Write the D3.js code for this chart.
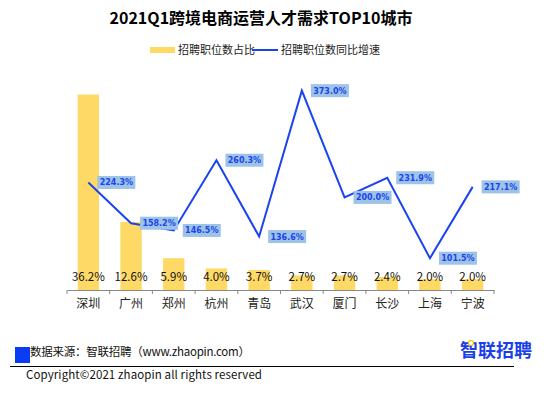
<!DOCTYPE html>
<html>
<head>
<meta charset="utf-8">
<script src="https://cdn.jsdelivr.net/npm/d3@7"></script>
<style>
  body { margin: 0; background: #fff; }
  svg { font-family: "Noto Sans CJK SC", "Noto Sans", sans-serif; }
</style>
</head>
<body>
<div id="chart"></div>
<script>
'use strict';

var cities = ['深圳', '广州', '郑州', '杭州', '青岛', '武汉', '厦门', '长沙', '上海', '宁波'];
var shareValues = [36.2, 12.6, 5.9, 4.0, 3.7, 2.7, 2.7, 2.4, 2.0, 2.0];   // 招聘职位数占比 (%)
var growthValues = [224.3, 158.2, 146.5, 260.3, 136.6, 373.0, 200.0, 231.9, 101.5, 217.1]; // 同比增速 (%)
var legendLabels = ['招聘职位数占比', '招聘职位数同比增速'];

var w = 554
  , h = 395
  , plotLeft = 67
  , plotRight = 494
  , plotTop = 74
  , plotBottom = 290
  , barColor = '#FFD966'
  , lineColor = '#1B44F0';

var svg = d3.select('#chart').append('svg')
    .attr('width', w)
    .attr('height', h);

// title
svg.append('text')
    .attr('x', 261)
    .attr('y', 24)
    .attr('text-anchor', 'middle')
    .style('font-size', '16px')
    .style('font-weight', 'bold')
    .style('fill', '#000')
    .text('2021Q1跨境电商运营人才需求TOP10城市');

// legend
var legend = svg.append('g').style('font-size', '11px').style('fill', '#222');
legend.append('rect')
    .attr('x', 150).attr('y', 47).attr('width', 25).attr('height', 6)
    .style('fill', barColor);
legend.append('text').attr('x', 178).attr('y', 54).text(legendLabels[0]);
legend.append('line')
    .attr('x1', 252).attr('x2', 278).attr('y1', 50).attr('y2', 50)
    .style('stroke', lineColor).style('stroke-width', 2);
legend.append('text').attr('x', 281).attr('y', 54).text(legendLabels[1]);

// scales
var x = d3.scaleBand().domain(cities).range([plotLeft, plotRight]);
var yBar = d3.scaleLinear().domain([0, 40]).range([plotBottom, plotTop]);
var yLine = d3.scaleLinear().domain([50, 400]).range([plotBottom, plotTop]);

// bars
svg.append('g').selectAll('rect')
    .data(shareValues)
  .enter().append('rect')
    .attr('x', function (d, i) { return x(cities[i]) + x.bandwidth() * 0.25; })
    .attr('width', x.bandwidth() * 0.5)
    .attr('y', function (d) { return yBar(d); })
    .attr('height', function (d) { return plotBottom - yBar(d); })
    .style('fill', barColor);

// bar value labels (inside base)
svg.append('g').selectAll('text')
    .data(shareValues)
  .enter().append('text')
    .attr('x', function (d, i) { return x(cities[i]) + x.bandwidth() / 2; })
    .attr('y', plotBottom - 9)
    .attr('text-anchor', 'middle')
    .style('font-size', '11.5px')
    .style('fill', '#111')
    .text(function (d) { return d.toFixed(1) + '%'; });

// x axis
var axis = svg.append('g')
    .attr('transform', 'translate(0,' + plotBottom + ')')
    .call(d3.axisBottom(x).tickSize(0).tickPadding(9));
axis.select('.domain').style('stroke', '#888');
axis.selectAll('text')
    .style('font-size', '12px')
    .style('font-family', '"Noto Sans CJK SC", sans-serif')
    .style('fill', '#222');
axis.selectAll('line.sep')
    .data(d3.range(cities.length + 1))
  .enter().append('line')
    .attr('class', 'sep')
    .attr('x1', function (d) { return plotLeft + d * x.step(); })
    .attr('x2', function (d) { return plotLeft + d * x.step(); })
    .attr('y1', 0).attr('y2', 4)
    .style('stroke', '#888');

// growth line
var line = d3.line()
    .x(function (d, i) { return x(cities[i]) + x.bandwidth() / 2; })
    .y(function (d) { return yLine(d); });

svg.append('path')
    .datum(growthValues)
    .attr('d', line)
    .style('fill', 'none')
    .style('stroke', lineColor)
    .style('stroke-width', 2)
    .style('stroke-linejoin', 'miter');

// growth labels with light blue box
var gl = svg.append('g').selectAll('g')
    .data(growthValues)
  .enter().append('g')
    .attr('transform', function (d, i) {
      return 'translate(' + (x(cities[i]) + x.bandwidth() / 2 + 9) + ',' + yLine(d) + ')';
    });
gl.append('rect')
    .attr('x', 0).attr('y', -6.5)
    .attr('width', 38).attr('height', 13)
    .style('fill', '#9DC3E6');
gl.append('text')
    .attr('x', 19).attr('y', 3)
    .attr('text-anchor', 'middle')
    .style('font-size', '8px')
    .style('font-weight', 'bold')
    .style('font-family', '"DejaVu Sans", sans-serif')
    .style('fill', '#1B44F0')
    .text(function (d) { return d.toFixed(1) + '%'; });

// footer
svg.append('rect')
    .attr('x', 15).attr('y', 347).attr('width', 15).attr('height', 16)
    .style('fill', '#0A3CF5');
svg.append('text')
    .attr('x', 30).attr('y', 356)
    .attr('textLength', 220)
    .style('font-size', '11.5px')
    .style('fill', '#111')
    .text('数据来源：智联招聘（www.zhaopin.com）');
svg.append('line')
    .attr('x1', 10).attr('x2', 514).attr('y1', 366.5).attr('y2', 366.5)
    .style('stroke', '#000').style('stroke-width', 1);
svg.append('text')
    .attr('x', 26).attr('y', 379)
    .attr('textLength', 236)
    .style('font-size', '11.5px')
    .style('fill', '#111')
    .text('Copyright©2021 zhaopin all rights reserved');
svg.append('text')
    .attr('x', 496).attr('y', 357)
    .attr('text-anchor', 'middle')
    .style('font-size', '18px')
    .style('font-weight', 'bold')
    .style('fill', '#1B3FE8')
    .text('智联招聘');
svg.append('circle')
    .attr('cx', 471).attr('cy', 343).attr('r', 2.5)
    .style('fill', '#fff').style('stroke', '#F5B400').style('stroke-width', 1.2);
</script>
</body>
</html>
